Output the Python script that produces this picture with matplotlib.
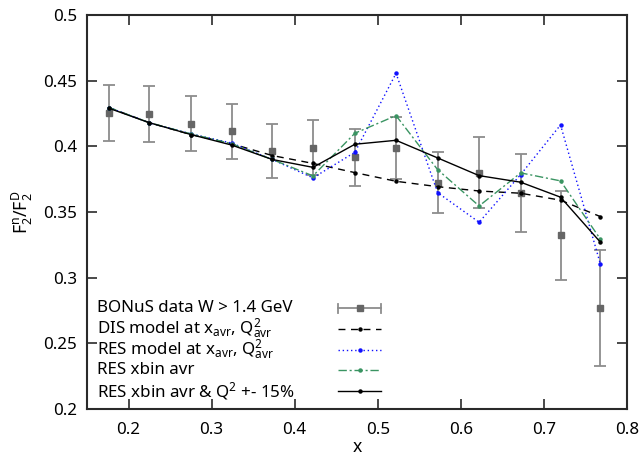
""" BONuS F2n/F2D ratio vs x, data and model curves """

import matplotlib
matplotlib.use('Agg')
import matplotlib.pyplot as plt
from matplotlib.lines import Line2D

plt.rcParams['font.family'] = ['Noto Sans', 'DejaVu Sans']
plt.rcParams['mathtext.fontset'] = 'custom'
plt.rcParams['mathtext.rm'] = 'Noto Sans'
plt.rcParams['mathtext.it'] = 'Noto Sans:italic'
plt.rcParams['mathtext.default'] = 'regular'

x = [0.1765, 0.225, 0.275, 0.324, 0.373, 0.422, 0.4725, 0.522,
     0.572, 0.622, 0.672, 0.720, 0.768]

data_y = [0.4257, 0.4247, 0.4173, 0.4117, 0.3965, 0.3988, 0.392, 0.399,
          0.3724, 0.380, 0.3645, 0.3323, 0.277]
data_lo = [0.4039, 0.4031, 0.3963, 0.3907, 0.3757, 0.378, 0.370, 0.3752,
           0.349, 0.353, 0.3346, 0.2983, 0.2324]
data_hi = [0.447, 0.4462, 0.4386, 0.4325, 0.4173, 0.4201, 0.4132, 0.422,
           0.3957, 0.4074, 0.3944, 0.3663, 0.3212]

dis_y = [0.4295, 0.418, 0.409, 0.402, 0.393, 0.387, 0.380, 0.3734,
         0.3693, 0.366, 0.3643, 0.3590, 0.3465]
res_y = [0.4295, 0.418, 0.4095, 0.4025, 0.390, 0.376, 0.3955, 0.4556,
         0.3648, 0.3422, 0.3785, 0.4163, 0.3103]
xbin_y = [0.4295, 0.418, 0.4095, 0.402, 0.390, 0.3775, 0.410, 0.4234,
          0.3823, 0.3546, 0.3798, 0.3737, 0.3293]
xbinq_y = [0.429, 0.418, 0.409, 0.401, 0.390, 0.384, 0.4016, 0.4046,
           0.3912, 0.3777, 0.3727, 0.3613, 0.327]

LABELS = [
    'BONuS data W > 1.4 GeV',
    r'DIS model at x$_{avr}$, Q$^2_{avr}$',
    r'RES model at x$_{avr}$, Q$^2_{avr}$',
    'RES xbin avr',
    r'RES xbin avr & Q$^2$ +- 15%',
]

GRAY_BAR = '#8c8c8c'
GRAY_PT = '#666666'
GREEN = '#3a9462'
BLUE = '#1010ff'
BORDER = '#2a2a2a'
FS = 12.2

fig = plt.figure(figsize=(6.43, 4.59), dpi=100)
ax = fig.add_axes([0.1353, 0.1089, 0.8398, 0.8584])

yerr = [[d - l for d, l in zip(data_y, data_lo)],
        [h - d for d, h in zip(data_y, data_hi)]]
ax.errorbar(x, data_y, yerr=yerr, fmt='none', ecolor=GRAY_BAR,
            elinewidth=1.3, capsize=4, capthick=1.3, zorder=2)
ax.plot(x, data_y, 's', color=GRAY_PT, markersize=5, zorder=3)

styles = [
    (dis_y, dict(color='black', linestyle=(0, (5, 4)), linewidth=1.0)),
    (res_y, dict(color=BLUE, linestyle=(0, (1, 2)), linewidth=1.0)),
    (xbin_y, dict(color=GREEN, linestyle=(0, (6, 2, 1.5, 2)), linewidth=1.0)),
    (xbinq_y, dict(color='black', linestyle='-', linewidth=1.0)),
]
for ys, st in styles:
    ax.plot(x, ys, marker='o', markersize=2.2, zorder=4, **st)

ax.set_xlim(0.15, 0.8)
ax.set_ylim(0.2, 0.5)
ax.set_xticks([0.2, 0.3, 0.4, 0.5, 0.6, 0.7, 0.8])
ax.set_xticklabels(['0.2', '0.3', '0.4', '0.5', '0.6', '0.7', '0.8'])
ax.set_yticks([0.2, 0.25, 0.3, 0.35, 0.4, 0.45, 0.5])
ax.set_yticklabels(['0.2', '0.25', '0.3', '0.35', '0.4', '0.45', '0.5'])
ax.tick_params(direction='in', length=7, width=1.2, color=BORDER,
               top=True, right=True, labelsize=FS)
ax.tick_params(axis='x', pad=9)
ax.tick_params(axis='y', pad=7)
for sp in ax.spines.values():
    sp.set_color(BORDER)
    sp.set_linewidth(1.5)

ax.set_xlabel('x', fontsize=FS + 0.5, labelpad=0)
ax.set_ylabel(r'F$_2^n$/F$_2^D$', fontsize=FS + 0.5, labelpad=6)

# gnuplot style key: text on the left, sample on the right
row_y = [0.2556, 0.2033, 0.1508, 0.0983, 0.0467]
x0, x1 = 0.4655, 0.5452
xm = (x0 + x1) / 2
for i, (lab, yy) in enumerate(zip(LABELS, row_y)):
    ax.text(0.019, yy, lab, transform=ax.transAxes, fontsize=FS,
            ha='left', va='center')
    if i == 0:
        ax.add_line(Line2D([x0, x1], [yy, yy], color=GRAY_BAR, lw=1.3,
                           transform=ax.transAxes))
        for xe in (x0, x1):
            ax.add_line(Line2D([xe, xe], [yy - 0.012, yy + 0.012],
                               color=GRAY_BAR, lw=1.3,
                               transform=ax.transAxes))
        ax.add_line(Line2D([xm], [yy], marker='s', color=GRAY_PT,
                           markersize=5, transform=ax.transAxes))
    else:
        st = styles[i - 1][1]
        ax.add_line(Line2D([x0, x1], [yy, yy], transform=ax.transAxes, **st))
        ax.add_line(Line2D([xm], [yy], marker='o', markersize=2.2,
                           color=st['color'], linestyle='none',
                           transform=ax.transAxes))

fig.savefig('out.png', dpi=100)
